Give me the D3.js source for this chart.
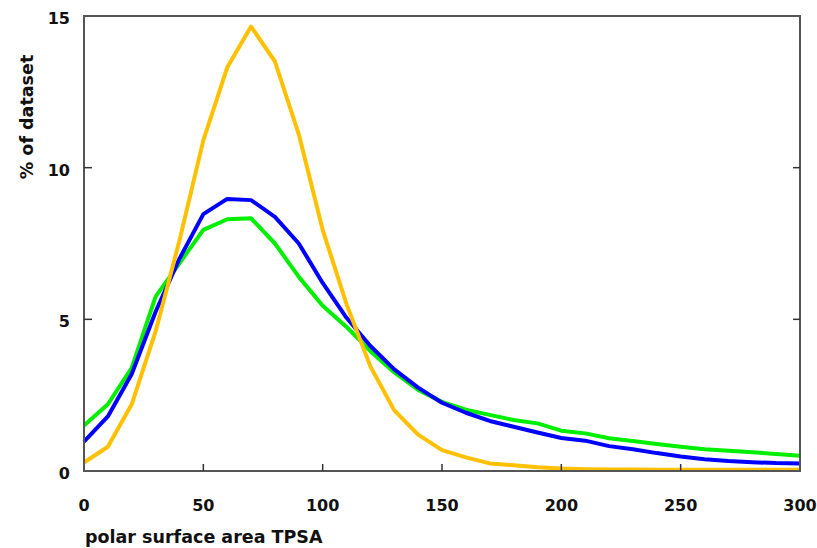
<!DOCTYPE html>
<html>
<head>
<meta charset="utf-8">
<style>
    body { margin: 0; background: #fff; }
    text { font-family: "DejaVu Sans", Verdana, sans-serif; font-weight: bold; fill: #111; }
</style>
</head>
<body>
<svg id="chart" width="817" height="548"></svg>
<script src="https://cdn.jsdelivr.net/npm/d3@7"></script>
<script>
    // TPSA bins, step 10
    let tpsa = d3.range(0, 301, 10)

    let greenVals = [1.5, 2.2, 3.4, 5.75, 6.85, 7.95, 8.3, 8.33, 7.5, 6.4, 5.45, 4.75, 3.95, 3.25, 2.67, 2.28,
        2.02, 1.85, 1.68, 1.57, 1.33, 1.24, 1.08, 0.99, 0.89, 0.8, 0.72, 0.67, 0.62, 0.56, 0.5]
    let blueVals = [0.97, 1.8, 3.2, 5.25, 7.0, 8.47, 8.97, 8.93, 8.38, 7.5, 6.2, 5.05, 4.12, 3.35, 2.75, 2.25,
        1.92, 1.65, 1.46, 1.27, 1.09, 1.0, 0.82, 0.72, 0.59, 0.48, 0.39, 0.33, 0.29, 0.26, 0.25]
    let orangeVals = [0.28, 0.8, 2.2, 4.6, 7.6, 10.9, 13.3, 14.65, 13.5, 11.1, 7.95, 5.5, 3.45, 2.0, 1.2, 0.69,
        0.45, 0.25, 0.19, 0.12, 0.08, 0.06, 0.05, 0.05, 0.04, 0.04, 0.04, 0.04, 0.04, 0.04, 0.04]

    let xTicks = [50, 100, 150, 200, 250]
    let xLabels = [0, 50, 100, 150, 200, 250, 300]
    let yTicks = [5, 10]
    let yLabels = [0, 5, 10, 15]

    let series = [
        { name: "green", color: "#00ee00", values: greenVals },
        { name: "blue", color: "#0000ff", values: blueVals },
        { name: "orange", color: "#ffc000", values: orangeVals }
    ]

    let plotLeft = 84, plotTop = 16, plotRight = 800, plotBottom = 471

    let svg = d3.select("#chart")

    let x = d3.scaleLinear().domain([0, 300]).range([plotLeft, plotRight])
    let y = d3.scaleLinear().domain([0, 15]).range([plotBottom, plotTop])

    // lines
    let line = d3.line()
        .x((d, i) => x(tpsa[i]))
        .y(d => y(d))

    svg.selectAll("path.series")
        .data(series)
        .enter()
        .append("path")
        .attr("class", "series")
        .attr("d", d => line(d.values))
        .attr("fill", "none")
        .attr("stroke", d => d.color)
        .attr("stroke-width", 4)
        .attr("stroke-linejoin", "round")

    // frame
    svg.append("rect")
        .attr("x", plotLeft)
        .attr("y", plotTop)
        .attr("width", plotRight - plotLeft)
        .attr("height", plotBottom - plotTop)
        .attr("fill", "none")
        .attr("stroke", "#555")
        .attr("stroke-width", 2)

    // inward ticks
    let ticks = svg.append("g").attr("stroke", "#333").attr("stroke-width", 1.5)
    ticks.selectAll("line.xt")
        .data(xTicks)
        .enter()
        .append("line")
        .attr("x1", d => x(d)).attr("x2", d => x(d))
        .attr("y1", plotBottom).attr("y2", plotBottom - 7)
    ticks.selectAll("line.yl")
        .data(yTicks)
        .enter()
        .append("line")
        .attr("x1", plotLeft).attr("x2", plotLeft + 8)
        .attr("y1", d => y(d)).attr("y2", d => y(d))
    ticks.selectAll("line.yr")
        .data(yTicks)
        .enter()
        .append("line")
        .attr("x1", plotRight).attr("x2", plotRight - 7)
        .attr("y1", d => y(d)).attr("y2", d => y(d))

    // tick labels
    svg.selectAll("text.xl")
        .data(xLabels)
        .enter()
        .append("text")
        .attr("x", d => x(d))
        .attr("y", 511)
        .attr("text-anchor", "middle")
        .attr("font-size", 16)
        .text(d => d)

    svg.selectAll("text.yl")
        .data(yLabels)
        .enter()
        .append("text")
        .attr("x", 70)
        .attr("y", d => y(d) + 8)
        .attr("text-anchor", "end")
        .attr("font-size", 16)
        .text(d => d)

    // axis titles
    svg.append("text")
        .attr("x", 85)
        .attr("y", 543)
        .attr("font-size", 17.5)
        .text("polar surface area TPSA")

    svg.append("text")
        .attr("transform", "translate(33,117) rotate(-90)")
        .attr("text-anchor", "middle")
        .attr("font-size", 17.5)
        .text("% of dataset")
</script>
</body>
</html>
